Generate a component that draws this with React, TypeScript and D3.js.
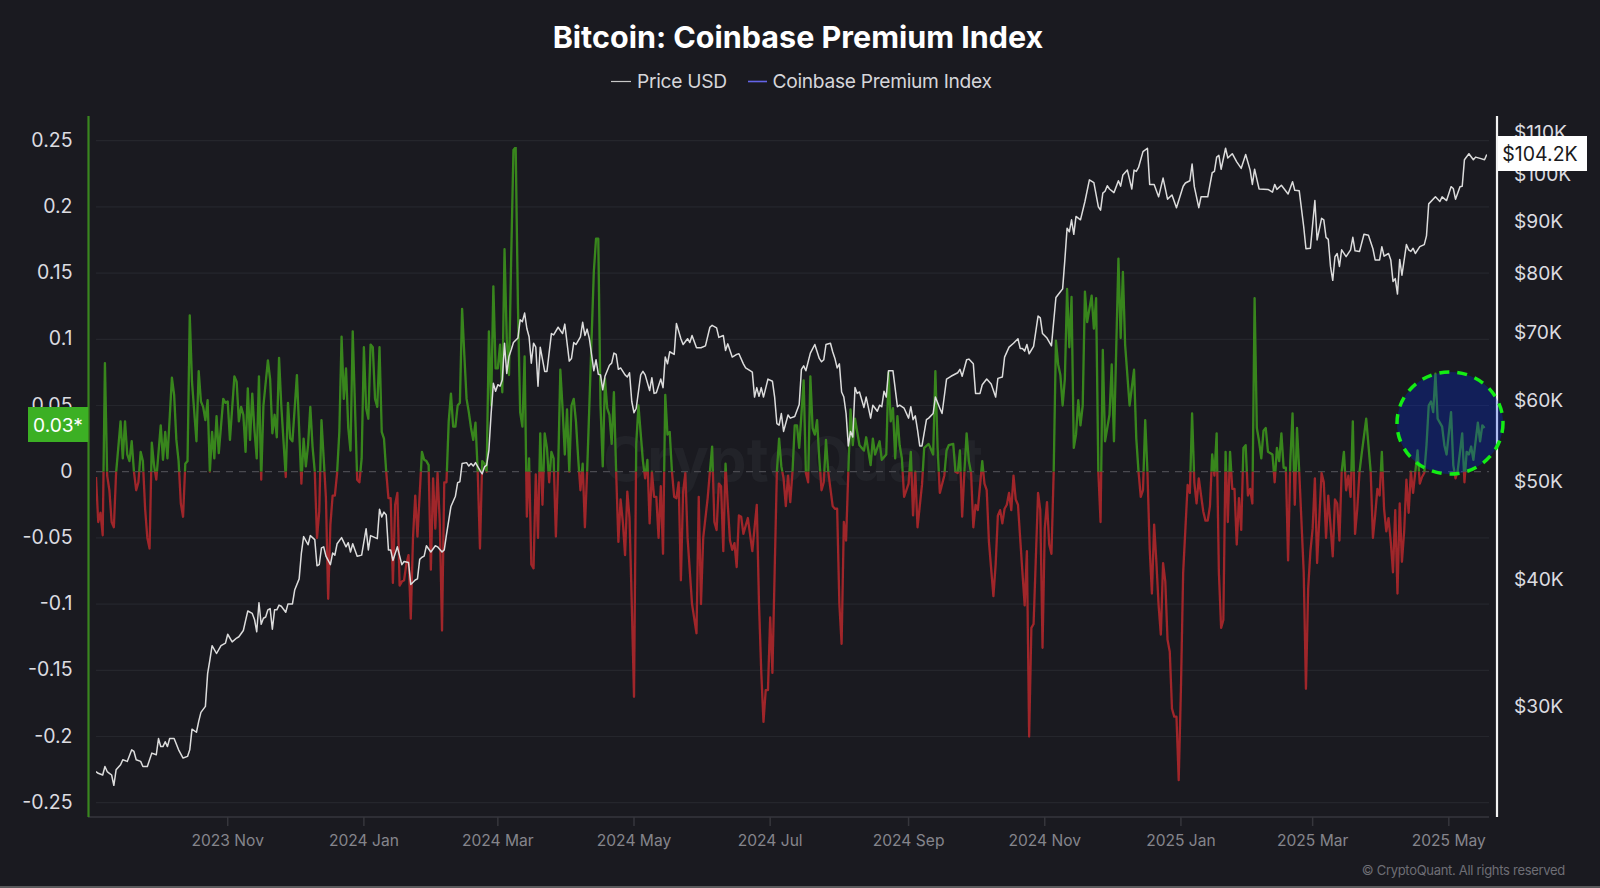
import React from "react";
import * as d3 from "d3";

type Pt = [number, number];

// [days since 2023-09-03, premium index]
const premiumLate2023: Pt[] = [[0,-0.004],[1,-0.038],[2,-0.031],[3,-0.048],[4,0.082],[5,-0.003],[6,-0.014],[7,-0.038],[8,-0.042],[9,-0.001],[11,0.038],[12,0.01],[13,0.038],[14,0.013],[15,0.008],[16,0.023],[17,0],[18,-0.014],[19,-0.008],[20,0.015],[21,0.008],[22,-0.028],[23,-0.05],[24,-0.058],[25,0.022],[26,0.005],[27,-0.006],[29,0.035],[30,0.009],[31,0.03],[32,0.01],[34,0.071],[35,0.058],[36,0.024],[37,0.008],[38,-0.024],[39,-0.034],[40,0.006],[41,0.008],[42,0.118],[43,0.068],[45,0.023],[46,0.076],[47,0.053],[48,0.049],[49,0.039],[50,0.054],[51,0],[52,0.03],[53,0.01],[54,0.042],[55,0.014],[57,0.055],[58,0.052],[59,0.053],[60,0.024],[62,0.072],[63,0.068],[64,0.038],[65,0.049],[66,0.043],[67,0.015],[68,0.063],[69,0.024],[70,0.059],[71,0.031],[72,0.01],[73,0.072],[74,-0.006],[75,0.05],[77,0.084],[78,0.07],[79,0.029],[80,0.043],[81,0.026],[82,0.086],[83,0.05],[85,-0.004],[86,0.052],[87,0.025],[88,0.023],[90,0.073],[92,-0.009],[93,0.025],[94,0.004],[95,0.02],[96,0.049],[97,0.019],[98,0],[99,-0.05],[100,-0.03],[101,0.039],[102,0.01],[103,-0.02],[104,-0.096],[105,-0.04],[106,-0.018],[107,-0.018],[108,-0.001],[109,0.03],[110,0.102],[111,0.055],[112,0.078],[113,0.033],[114,0.016],[115,0.106],[117,-0.006],[118,-0.008],[119,0.01]];
const premiumEarly2024: Pt[] = [[120,0.094],[121,0.048],[122,0.04],[123,0.096],[124,0.094],[125,0.055],[126,0.049],[127,0.094],[128,0.03],[129,0.025],[130,0],[131,-0.02],[132,-0.02],[133,-0.084],[134,-0.025],[135,-0.016],[136,-0.086],[137,-0.083],[138,-0.082],[139,-0.07],[140,-0.063],[141,-0.111],[142,-0.05],[143,-0.018],[144,-0.049],[146,0.015],[147,0.009],[148,0.008],[149,0.005],[150,-0.074],[151,-0.005],[152,-0.043],[153,-0.001],[154,-0.038],[155,-0.12],[156,-0.008],[157,-0.008],[158,0.038],[159,0.059],[160,0.034],[161,0.034],[162,0.05],[163,0.052],[164,0.123],[165,0.088],[166,0.055],[167,0.045],[168,0.033],[169,0.024],[170,0.037],[171,0],[172,-0.058],[173,0.008],[174,0.006],[175,0],[176,0.106],[177,0.05],[178,0.14],[179,0.078],[180,0.078],[181,0.096],[182,0.06],[183,0.168],[184,0.1],[185,0.073],[186,0.163],[187,0.243],[188,0.245],[189,0.126],[190,0.045],[191,0.034],[192,0.087],[193,-0.034],[194,0.01],[195,-0.07],[196,-0.073],[197,-0.002],[198,-0.05],[199,0.029],[200,-0.025],[201,0.029],[202,0.018],[203,-0.008],[204,0.015],[205,0.01],[206,-0.049],[207,0],[208,0.077],[209,0.048],[210,0.013],[211,0.047],[212,0],[213,0.05],[214,0.055],[215,0.038],[216,0.01],[217,-0.014],[218,0.006],[219,-0.042],[220,0],[221,0.05],[223,0.151],[224,0.176],[225,0.176],[226,0.05],[227,0.004],[228,0.07],[229,0.048],[230,0.043],[231,0.021],[232,0.06],[233,0],[234,-0.053],[235,-0.021],[236,-0.038],[237,-0.063],[238,-0.015],[239,-0.035],[240,-0.1],[241,-0.17],[242,0.021],[243,0.05],[245,0.008],[246,-0.005],[247,0.009],[248,-0.039],[249,0],[250,-0.019],[251,-0.019],[252,-0.05],[253,-0.011],[254,-0.062],[255,0.058],[256,0.028],[257,0.03],[258,0],[259,-0.019],[260,-0.02],[261,-0.008],[262,-0.082],[263,-0.015],[264,-0.001],[265,-0.05],[267,-0.1],[269,-0.122],[270,-0.019],[271,-0.1],[272,-0.05],[274,-0.02],[275,0],[276,0.019],[277,-0.038],[278,-0.044],[279,-0.009],[280,-0.011],[281,-0.06],[282,0.006],[283,-0.025],[284,-0.052],[285,-0.059],[286,-0.054],[287,-0.072],[288,-0.033],[289,-0.034],[290,-0.047],[292,-0.035],[294,-0.06],[296,-0.025],[297,-0.1],[298,-0.151],[299,-0.189]];
const premiumLate2024: Pt[] = [[300,-0.165],[301,-0.165],[302,-0.11],[303,-0.152],[304,-0.076],[305,0],[306,0.025],[307,0.004],[308,-0.005],[309,-0.026],[310,-0.003],[311,-0.023],[312,0],[313,0.035],[314,0.035],[315,0.018],[317,0.069],[318,-0.001],[319,-0.008],[320,0.072],[321,0.033],[322,0.028],[323,0.039],[324,0.01],[325,-0.014],[326,-0.008],[327,0.024],[328,0],[330,-0.026],[331,-0.028],[332,-0.028],[333,-0.1],[334,-0.13],[335,-0.038],[336,-0.052],[337,0],[338,0.047],[339,0.02],[340,0.04],[342,0.02],[344,0.016],[345,0.026],[347,0.005],[348,0.025],[349,0.013],[351,0.023],[352,0.009],[354,0.013],[355,0.075],[356,0.038],[357,0.048],[358,0.01],[359,0.042],[360,0.02],[361,0.01],[362,-0.019],[364,-0.009],[365,0.015],[366,-0.033],[367,0],[368,-0.042],[370,-0.01],[371,0.018],[373,0.021],[375,0.013],[376,0.076],[377,0.018],[378,-0.016],[380,-0.003],[381,0.016],[382,0.02],[384,0.021],[385,0],[386,-0.001],[387,0.016],[388,-0.034],[389,0],[390,0.029],[391,0.008],[392,-0.001],[393,-0.042],[394,-0.025],[395,-0.029],[397,0.008],[398,-0.009],[399,-0.014],[400,-0.053],[402,-0.094],[403,-0.07],[404,-0.033],[405,-0.029],[406,-0.039],[407,-0.028],[408,-0.025],[409,-0.016],[410,-0.029],[411,-0.003],[412,-0.021],[413,-0.025],[415,-0.076],[416,-0.101],[417,-0.06],[418,-0.2],[419,-0.118],[420,-0.115],[422,-0.016],[423,-0.029],[424,-0.133],[425,-0.043],[426,-0.023],[427,-0.055],[428,-0.062],[429,0],[430,0.099],[431,0.081],[432,0.073],[433,0.05],[434,0.07],[435,0.138],[436,0.094],[437,0.132],[438,0.018],[439,0.028],[440,0.054],[441,0.035],[442,0.05],[443,0.136],[444,0.113],[446,0.133],[447,0.108],[448,0.131],[449,0],[450,-0.038],[451,0.092],[452,0.023],[454,0.043],[455,0.081],[456,0.023],[458,0.161],[459,0.101],[460,0.151],[461,0.096],[463,0.05],[465,0.077],[466,0.025],[467,0],[468,-0.019],[469,-0.014],[470,0.039],[471,0],[472,-0.058],[473,-0.092],[474,-0.04],[475,-0.068],[476,-0.101],[477,-0.123],[478,-0.069],[479,-0.083],[480,-0.127],[481,-0.136],[482,-0.179],[483,-0.185],[484,-0.185],[485,-0.233]];
const premium2025: Pt[] = [[486,-0.164],[487,-0.076],[489,-0.01],[490,-0.016],[491,0.044],[492,-0.008],[493,-0.024],[494,-0.005],[496,-0.03],[497,-0.037],[498,-0.037],[499,-0.026],[500,0.013],[501,-0.003],[502,0.029],[503,-0.076],[504,-0.118],[505,-0.112],[506,0.015],[507,-0.038],[508,0.015],[509,-0.013],[510,-0.013],[511,-0.055],[512,-0.02],[513,-0.044],[514,0.018],[515,0.02],[516,-0.018],[517,-0.013],[518,-0.024],[519,0.131],[520,0.033],[521,0.023],[522,0.01],[523,0.031],[524,0.033],[525,0.015],[527,0.013],[528,-0.008],[529,0.018],[530,0.008],[531,0.029],[532,0.003],[533,0.003],[534,-0.067],[535,0.008],[536,0.044],[537,-0.025],[538,0.033],[539,0],[541,-0.076],[542,-0.164],[543,-0.088],[544,-0.06],[545,-0.043],[546,-0.005],[547,-0.069],[549,-0.001],[550,-0.008],[551,-0.05],[552,-0.018],[554,-0.064],[555,-0.021],[556,-0.024],[557,-0.052],[558,0],[559,0.015],[560,-0.014],[561,-0.003],[562,-0.019],[563,0.038],[564,-0.047],[565,-0.028],[566,0],[567,0.014],[569,0.04],[571,0],[572,-0.05],[573,-0.033],[574,-0.013],[575,-0.018],[576,0.015],[577,-0.028],[578,-0.045],[579,-0.035],[580,-0.053],[581,-0.076],[582,-0.029],[583,-0.092],[584,-0.024],[585,-0.068],[586,-0.045],[587,-0.006],[588,-0.031],[589,0],[590,-0.016],[591,0],[592,0.016],[593,-0.009],[594,-0.004],[595,-0.001],[596,0.02],[597,0.05],[598,0.053],[599,0.045],[600,0.074],[601,0.04],[603,0.034],[604,0.02],[605,0.013],[607,0.045],[608,0.005],[609,-0.005],[610,0.001],[612,0.029],[613,-0.008],[614,0.015],[615,0.013],[616,0.019],[617,0.009],[619,0.037],[620,0.023],[621,0.035],[622,0.033]];

// [days since 2023-09-03, BTC price in $K]
const priceLate2023: Pt[] = [[0,25.8],[1,25.7],[3,25.6],[4,26.1],[5,25.8],[6,25.7],[7,25.6],[8,25.0],[9,25.9],[11,26.2],[12,26.5],[14,26.4],[16,27.1],[17,27.0],[18,26.5],[20,26.4],[21,26.1],[22,26.1],[23,26.1],[25,26.9],[27,26.8],[28,27.8],[29,27.3],[30,27.3],[31,27.6],[32,27.3],[33,27.8],[35,27.8],[37,27.1],[39,26.6],[41,26.7],[42,27.1],[43,28.4],[45,28.2],[46,28.9],[47,29.5],[49,29.9],[50,32.2],[51,33.2],[52,34.3],[54,33.7],[56,34.3],[58,34.5],[59,35.2],[61,34.6],[63,34.9],[64,35.0],[66,35.5],[67,36.3],[68,37.1],[70,36.9],[71,36.4],[72,35.4],[73,37.8],[74,36.0],[75,36.5],[76,36.6],[77,37.2],[78,37.3],[79,35.6],[80,37.2],[81,37.2],[82,37.6],[83,37.5],[85,37.0],[86,37.7],[88,37.7],[89,38.9],[91,39.9],[92,42.3],[93,43.9],[95,43.1],[96,44.0],[98,43.6],[99,41.1],[100,41.2],[101,42.8],[102,42.9],[103,42.0],[105,41.2],[106,42.3],[107,42.1],[108,43.2],[110,43.8],[112,42.9],[113,43.3],[114,42.4],[115,43.2],[117,42.0],[119,42.1]];
const priceEarly2024: Pt[] = [[121,44.7],[122,42.6],[123,44.0],[125,43.8],[126,43.7],[127,46.7],[128,45.9],[129,46.4],[130,46.1],[131,42.6],[132,42.6],[133,41.6],[135,42.9],[137,41.2],[138,41.5],[140,41.4],[141,39.4],[143,39.8],[144,39.9],[145,41.7],[146,41.9],[147,42.0],[148,43.0],[150,42.4],[152,43.0],[153,42.9],[155,42.4],[156,42.6],[157,44.1],[159,47.0],[161,48.1],[162,49.6],[163,49.7],[164,51.8],[166,51.9],[167,51.5],[168,51.8],[169,51.5],[170,51.9],[172,51.0],[173,50.6],[174,51.4],[175,51.6],[176,53.4],[177,58.0],[178,62.1],[179,61.0],[180,61.9],[181,61.7],[182,62.6],[183,68.0],[184,63.5],[185,66.0],[186,67.0],[187,68.1],[189,68.8],[190,71.7],[191,71.4],[192,72.8],[193,70.3],[194,69.0],[195,65.0],[196,68.0],[197,67.4],[198,61.7],[199,67.4],[201,63.8],[202,63.8],[204,69.5],[205,69.3],[207,70.5],[209,69.5],[210,71.0],[212,65.3],[213,65.7],[214,68.1],[215,67.8],[217,69.0],[218,71.3],[219,69.2],[220,70.2],[221,68.7],[223,63.9],[224,65.5],[225,63.4],[226,63.3],[227,61.2],[228,63.1],[230,64.7],[231,65.0],[232,66.5],[233,66.3],[234,64.1],[235,64.3],[237,63.3],[238,63.0],[239,63.6],[240,59.6],[241,58.1],[242,58.7],[244,63.3],[245,63.8],[246,63.3],[248,61.1],[249,62.9],[250,60.7],[251,60.8],[253,62.7],[254,61.5],[255,65.9],[256,64.9],[257,66.7],[259,66.3],[260,71.1],[262,68.7],[263,67.8],[265,68.7],[266,68.1],[267,69.2],[269,67.3],[271,67.3],[273,67.6],[275,70.5],[276,70.8],[278,70.4],[279,68.9],[281,69.2],[282,66.9],[283,67.9],[285,65.9],[287,66.3],[288,66.4],[290,64.9],[291,64.3],[293,63.9],[294,63.7],[295,60.2],[296,61.5],[297,60.3],[298,61.5],[299,60.2]];
const priceLate2024: Pt[] = [[301,62.7],[303,62.4],[304,60.2],[305,56.7],[306,56.5],[307,58.0],[308,55.7],[310,57.8],[311,57.4],[313,57.6],[315,59.2],[316,64.1],[317,64.6],[318,63.9],[320,66.5],[322,67.8],[324,65.7],[325,65.2],[326,65.5],[327,67.8],[329,68.0],[330,66.7],[331,65.7],[332,64.3],[333,64.9],[334,60.9],[335,60.2],[336,58.0],[337,53.9],[338,55.7],[339,55.0],[340,61.5],[341,60.7],[342,60.9],[344,58.8],[345,60.2],[347,57.4],[348,59.1],[350,58.3],[351,59.1],[352,58.9],[353,61.0],[354,60.2],[355,63.9],[357,63.9],[359,58.9],[360,59.1],[362,58.7],[364,57.4],[365,58.9],[366,57.2],[367,57.7],[368,55.9],[369,53.9],[370,53.9],[372,57.2],[373,57.4],[375,58.0],[376,60.2],[378,58.7],[379,58.0],[381,62.7],[383,63.1],[386,63.6],[387,64.1],[388,63.1],[390,65.5],[391,65.6],[393,64.9],[394,60.7],[396,60.7],[397,61.9],[399,62.7],[401,62.0],[403,60.2],[404,62.8],[406,63.0],[407,65.9],[409,67.4],[411,68.0],[413,68.7],[414,67.2],[415,67.2],[416,66.8],[417,67.8],[418,66.4],[420,67.5],[422,72.3],[423,72.0],[424,69.5],[426,68.8],[428,67.6],[430,75.4],[432,76.4],[433,76.9],[434,82.1],[435,88.2],[436,87.5],[437,89.9],[438,87.0],[439,90.6],[441,89.9],[443,93.7],[445,98.4],[447,97.8],[449,92.6],[450,91.9],[451,95.5],[452,95.9],[453,97.1],[454,96.4],[456,95.6],[458,98.2],[459,97.0],[460,99.5],[462,100.6],[464,96.4],[465,100.6],[466,100.3],[467,101.2],[469,104.9],[471,105.7],[472,97.4],[474,97.4],[476,94.7],[478,98.8],[480,94.2],[482,95.1],[484,92.4]];
const price2025: Pt[] = [[487,97.0],[488,97.7],[490,98.2],[491,102.0],[492,96.9],[494,92.4],[495,94.7],[498,94.7],[500,100.0],[501,100.3],[502,103.6],[503,104.0],[504,100.8],[506,105.7],[507,103.4],[509,104.4],[511,102.5],[513,101.0],[515,104.2],[517,100.6],[518,97.4],[519,100.8],[521,96.4],[525,96.3],[527,95.7],[528,97.4],[529,96.3],[531,97.2],[534,95.3],[536,98.0],[537,96.1],[539,96.0],[541,88.5],[542,84.2],[544,84.3],[546,93.9],[547,85.9],[549,90.2],[550,89.9],[551,86.4],[552,86.0],[553,80.9],[554,78.4],[555,82.7],[556,83.3],[557,80.9],[558,84.0],[560,82.7],[562,84.0],[563,86.4],[564,83.8],[566,83.7],[568,87.0],[570,86.8],[572,84.2],[573,82.1],[575,82.1],[576,84.6],[577,82.8],[579,83.3],[580,82.1],[581,78.2],[582,78.7],[583,76.0],[584,82.2],[585,79.3],[587,85.0],[588,84.0],[589,83.7],[590,84.3],[591,83.3],[593,84.6],[595,85.0],[596,86.7],[597,93.2],[600,94.7],[602,93.7],[603,94.7],[605,93.9],[607,96.9],[608,96.5],[609,94.2],[611,96.9],[612,97.0],[613,103.0],[615,104.4],[617,103.0],[618,103.6],[620,103.3],[622,103.0],[623,104.2]];

const leftTicks = [0.25, 0.2, 0.15, 0.1, 0.05, 0, -0.05, -0.1, -0.15, -0.2, -0.25];
const priceTicks = [110, 100, 90, 80, 70, 60, 50, 40, 30];
const monthTicks: [string, string][] = [
  ["2023-11-01", "2023 Nov"], ["2024-01-01", "2024 Jan"], ["2024-03-01", "2024 Mar"],
  ["2024-05-01", "2024 May"], ["2024-07-01", "2024 Jul"], ["2024-09-01", "2024 Sep"],
  ["2024-11-01", "2024 Nov"], ["2025-01-01", "2025 Jan"], ["2025-03-01", "2025 Mar"], ["2025-05-01", "2025 May"],
];
const startDate = new Date(Date.UTC(2023, 8, 3));
const endDate = new Date(Date.UTC(2025, 4, 19));
const currentPrice = "$104.2K";
const currentPremium = "0.03*";

const FONT = "Inter, 'Open Sans', sans-serif";
const BG = "#1a1a20";
const GREEN = "#39861f";
const RED = "#a02529";

const x = d3.scaleUtc().domain([startDate, endDate]).range([96, 1489]);
const yPremium = d3.scaleLinear().domain([-0.25, 0.25]).range([802.7, 140.7]);
const yPrice = d3.scaleLog().domain([23.28, 113.7]).range([817, 116]);
const dayToDate = (d: number) => d3.utcDay.offset(startDate, d);

const premium = [...premiumLate2023, ...premiumEarly2024, ...premiumLate2024, ...premium2025];
const price = [...priceLate2023, ...priceEarly2024, ...priceLate2024, ...price2025];

const premiumLine = d3.line<Pt>().x((d) => x(dayToDate(d[0]))).y((d) => yPremium(d[1]));
const priceLine = d3.line<Pt>().x((d) => x(dayToDate(d[0]))).y((d) => yPrice(d[1]));

export default function App() {
  const zero = yPremium(0);
  const premPath = premiumLine(premium) || "";
  return (
    <svg
      width={1600}
      height={888}
      viewBox="0 0 1600 888"
      style={{ position: "fixed", left: 0, top: 0, background: BG, fontFamily: FONT }}
    >
      <defs>
        <clipPath id="above"><rect x={90} y={100} width={1410} height={zero - 100} /></clipPath>
        <clipPath id="below"><rect x={90} y={zero} width={1410} height={817 - zero} /></clipPath>
        <filter id="soft" x="0" y="0" width="100%" height="100%" filterUnits="objectBoundingBox">
          <feGaussianBlur stdDeviation="0.35" />
        </filter>
      </defs>
      <rect x={0} y={0} width={1600} height={888} fill={BG} />
      <rect x={0} y={886} width={1600} height={2} fill="#5a5a5c" />
      <text x={798} y={36} textAnchor="middle" dominantBaseline="central" fontSize={30.5} fontWeight={700} fill="#ffffff">
        Bitcoin: Coinbase Premium Index
      </text>
      <line x1={611} x2={631} y1={81.5} y2={81.5} stroke="#c8c8c8" strokeWidth={1.2} />
      <text x={637} y={81} dominantBaseline="central" fontSize={19.2} letterSpacing={-0.3} fill="#d6d6da">Price USD</text>
      <line x1={748} x2={767} y1={81.5} y2={81.5} stroke="#6464e8" strokeWidth={1.6} />
      <text x={772.5} y={81} dominantBaseline="central" fontSize={19.2} letterSpacing={-0.3} fill="#d6d6da">Coinbase Premium Index</text>

      {leftTicks.filter((t) => t !== 0).map((t) => (
        <line key={t} x1={96} x2={1489} y1={yPremium(t)} y2={yPremium(t)} stroke="#25262c" strokeWidth={1.2} />
      ))}
      <text x={793} y={459} textAnchor="middle" dominantBaseline="central" fontSize={60} fontWeight={700} fill="#222329">CryptoQuant</text>

      {leftTicks.map((t) => (
        <text key={t} x={72.5} y={yPremium(t) - 1} textAnchor="end" dominantBaseline="central" fontSize={19.5} fill="#dcdce0">{t}</text>
      ))}
      {priceTicks.map((t) => (
        <text key={t} x={1514} y={yPrice(t) + 1.5} dominantBaseline="central" fontSize={19.2} fill="#dcdce0">{`$${t}K`}</text>
      ))}

      <line x1={88} x2={1489} y1={817} y2={817} stroke="#36363c" strokeWidth={1.5} />
      {monthTicks.map(([d, label]) => {
        const px = x(new Date(d + "T00:00:00Z"));
        return (
          <g key={d}>
            <line x1={px} x2={px} y1={817} y2={826} stroke="#36363c" strokeWidth={1.5} />
            <text x={px} y={840.5} textAnchor="middle" dominantBaseline="central" fontSize={15.6} fill="#85858c">{label}</text>
          </g>
        );
      })}
      <text x={1565} y={869.5} textAnchor="end" dominantBaseline="central" fontSize={13} letterSpacing={-0.3} fill="#6e6e75">© CryptoQuant. All rights reserved</text>

      <line x1={96} x2={1489} y1={zero} y2={zero} stroke="#4a4a50" strokeWidth={1.2} strokeDasharray="7 6" />

      <g filter="url(#soft)">
        <path d={premPath} fill="none" stroke={GREEN} strokeWidth={2.3} strokeLinejoin="round" clipPath="url(#above)" />
        <path d={premPath} fill="none" stroke={RED} strokeWidth={2.3} strokeLinejoin="round" clipPath="url(#below)" />
        <path d={priceLine(price) || ""} fill="none" stroke="#dcdcdc" strokeWidth={1.5} strokeLinejoin="round" />
      </g>

      <line x1={88.5} x2={88.5} y1={116} y2={817} stroke={GREEN} strokeWidth={2.2} />
      <line x1={1497} x2={1497} y1={116} y2={817} stroke="#f2f2f2" strokeWidth={2.2} />

      <rect x={28} y={407} width={60} height={35} fill="#3cb024" />
      <text x={58} y={425} textAnchor="middle" dominantBaseline="central" fontSize={19.2} fill="#ffffff">{currentPremium}</text>
      <rect x={1498} y={136} width={89} height={35} fill="#ffffff" />
      <text x={1540} y={154} textAnchor="middle" dominantBaseline="central" fontSize={19.5} fill="#1a1a20">{currentPrice}</text>

      <ellipse cx={1450} cy={423} rx={53} ry={51} fill="rgb(0,48,245)" fillOpacity={0.27} stroke="#14ec14" strokeWidth={3.5} strokeDasharray="10 8" />
    </svg>
  );
}
